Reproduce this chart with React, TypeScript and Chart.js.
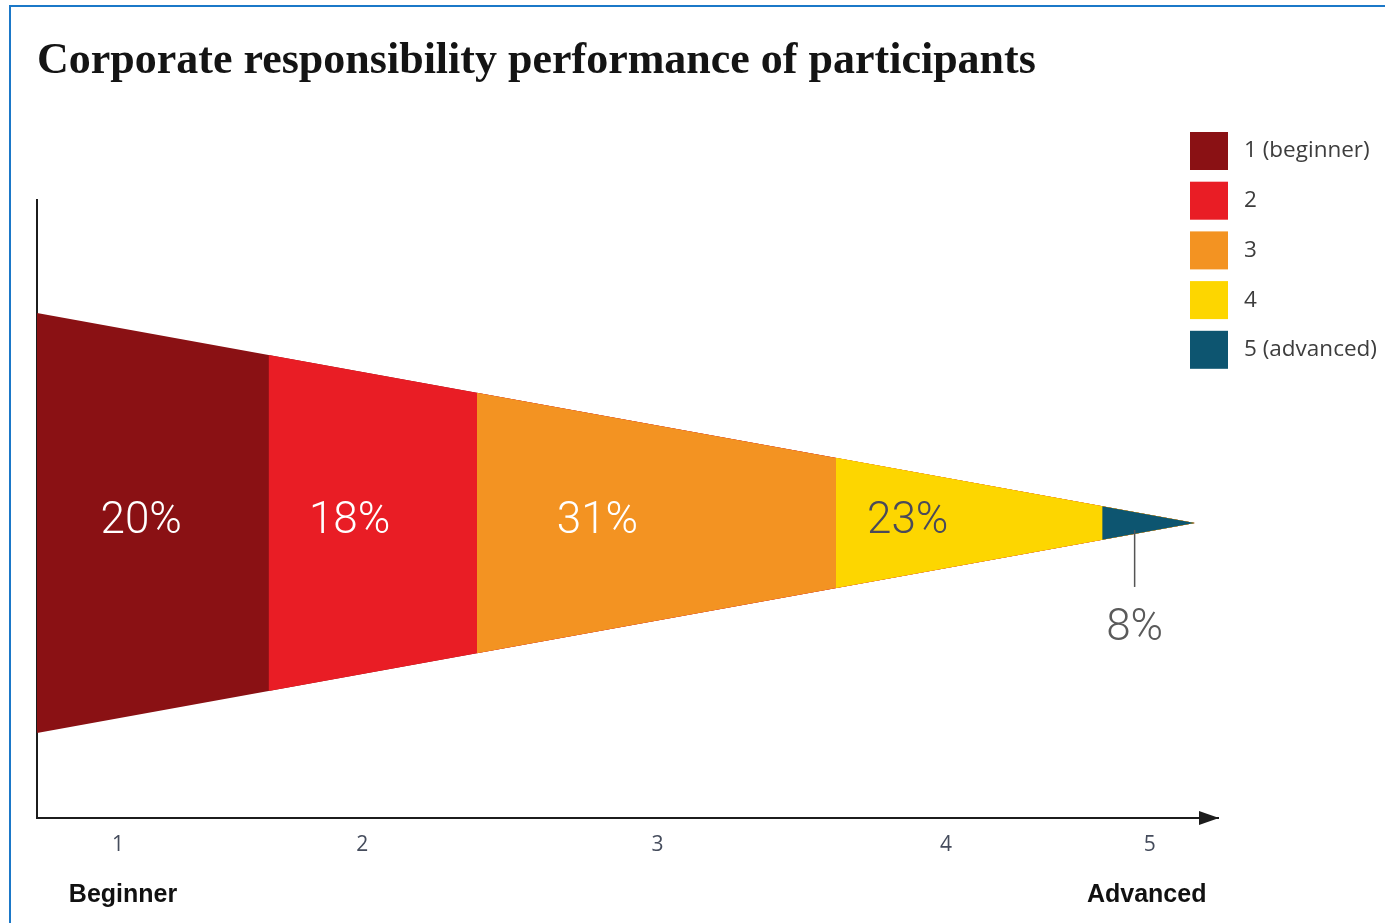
import React, { useEffect, useRef } from "react";
import { Chart, registerables } from "chart.js";

Chart.register(...registerables);

// ---- data ----
const TITLE = "Corporate responsibility performance of participants";
const levels = ["1 (beginner)", "2", "3", "4", "5 (advanced)"];
const shares = [20, 18, 31, 23, 8];
const shareLabels = ["20%", "18%", "31%", "23%", "8%"];
const labelAt = [9.0, 27.0, 48.4, 75.2, 94.8]; // x position (in % units) of each share label
const tickValues = [7.0, 28.1, 53.6, 78.5, 96.1];
const tickLabels = ["1", "2", "3", "4", "5"];
const axisEnds = ["Beginner", "Advanced"];

// ---- style ----
const colors = ["#8a1114", "#e91d25", "#f39322", "#fdd600", "#0d5570"];
const labelColors = ["#ffffff", "#ffffff", "#ffffff", "#4a4a5a", "#5a5a5a"];
const CALLOUT = 4; // index of label placed under the wedge with a leader line
const HALF_HEIGHT = 1; // wedge half-height at the start
const X_MAX = 102;
const Y_MIN = -1.405;
const Y_MAX = 1.538;

export default function App() {
  const ref = useRef<HTMLCanvasElement>(null);

  useEffect(() => {
    const canvas = ref.current;
    if (!canvas) return;

    const bounds: number[] = [0];
    shares.forEach((s) => bounds.push(bounds[bounds.length - 1] + s));
    const total = bounds[bounds.length - 1];
    const half = (x: number) => HALF_HEIGHT * (1 - x / total);

    // each band is drawn from its start to the tip; later bands sit on top
    const datasets: any[] = [];
    shares.forEach((_, i) => {
      const a = bounds[i];
      const order = shares.length - i;
      datasets.push({
        label: levels[i],
        data: [
          { x: a, y: half(a) },
          { x: total, y: half(total) },
        ],
        borderWidth: 0,
        pointRadius: 0,
        fill: false,
        order,
        borderColor: colors[i],
        backgroundColor: colors[i],
      });
      datasets.push({
        label: levels[i] + " low",
        data: [
          { x: a, y: -half(a) },
          { x: total, y: -half(total) },
        ],
        borderWidth: 0,
        pointRadius: 0,
        fill: "-1",
        order,
        borderColor: colors[i],
        backgroundColor: colors[i],
      });
    });

    const overlay = {
      id: "overlay",
      afterDraw(chart: any) {
        const { ctx, chartArea } = chart;
        const xs = chart.scales.x;
        const ys = chart.scales.y;
        ctx.save();

        // arrow head on x axis
        const ay = chartArea.bottom;
        ctx.fillStyle = "#1c1c1c";
        ctx.beginPath();
        ctx.moveTo(chartArea.right + 1, ay);
        ctx.lineTo(chartArea.right - 19, ay - 7);
        ctx.lineTo(chartArea.right - 19, ay + 7);
        ctx.closePath();
        ctx.fill();

        // share labels
        ctx.font = "300 44px Roboto";
        ctx.textAlign = "center";
        ctx.textBaseline = "alphabetic";
        const cy = ys.getPixelForValue(0);
        shareLabels.forEach((t, i) => {
          const px = xs.getPixelForValue(labelAt[i]);
          ctx.fillStyle = labelColors[i];
          if (i === CALLOUT) {
            ctx.strokeStyle = "#555555";
            ctx.lineWidth = 1.5;
            ctx.beginPath();
            ctx.moveTo(px, cy + 7);
            ctx.lineTo(px, cy + 64);
            ctx.stroke();
            ctx.fillText(t, px, cy + 117);
          } else {
            ctx.fillText(t, px, cy + 10);
          }
        });

        // axis end captions
        ctx.font = "bold 25px 'Liberation Sans'";
        ctx.fillStyle = "#111111";
        ctx.fillText(axisEnds[0], xs.getPixelForValue(tickValues[0]) + 5, 902);
        ctx.fillText(axisEnds[1], xs.getPixelForValue(tickValues[tickValues.length - 1]) - 3, 902);

        // legend
        const lx = 1190;
        const ly = 132;
        const box = 38;
        const step = 49.7;
        ctx.textAlign = "left";
        ctx.textBaseline = "middle";
        ctx.font = "22.5px 'Open Sans'";
        levels.forEach((lab, i) => {
          const top = ly + i * step;
          ctx.fillStyle = colors[i];
          ctx.fillRect(lx, top, box, box);
          ctx.fillStyle = "#3d3d3d";
          ctx.fillText(lab, 1244, top + box / 2);
        });

        ctx.restore();
      },
    };

    const chart = new Chart(canvas, {
      type: "line",
      data: { datasets },
      options: {
        animation: false,
        responsive: false,
        events: [],
        layout: { padding: { left: 37, right: 167, top: 0, bottom: 0 } },
        plugins: {
          legend: { display: false },
          tooltip: { enabled: false },
          title: {
            display: true,
            text: TITLE,
            align: "start",
            color: "#141414",
            font: { family: "'Liberation Serif'", size: 44, weight: "bold" },
            padding: { top: 35, bottom: 112.2 },
          },
        },
        scales: {
          x: {
            type: "linear",
            min: 0,
            max: X_MAX,
            grid: { display: false, drawTicks: false },
            border: { display: true, color: "#1c1c1c", width: 2 },
            afterBuildTicks: (s: any) => {
              s.ticks = tickValues.map((v) => ({ value: v }));
            },
            afterFit: (s: any) => {
              s.height = 105;
            },
            ticks: {
              autoSkip: false,
              maxRotation: 0,
              padding: 14,
              color: "#454c5c",
              font: { family: "'Open Sans'", size: 21 },
              callback: (_v: any, i: number) => tickLabels[i],
            },
          },
          y: {
            type: "linear",
            min: Y_MIN,
            max: Y_MAX,
            grid: { display: false, drawTicks: false },
            ticks: { display: false },
            border: { display: true, color: "#1c1c1c", width: 2 },
            afterFit: (s: any) => {
              s.width = 0;
            },
          },
        },
      },
      plugins: [overlay],
    } as any);

    return () => chart.destroy();
  }, []);

  return (
    <>
      <div
        style={{
          position: "fixed",
          left: 9,
          top: 5,
          right: 0,
          bottom: 0,
          borderTop: "2px solid #1b78c8",
          borderLeft: "2px solid #1b78c8",
          background: "#ffffff",
        }}
      />
      <canvas
        ref={ref}
        width={1385}
        height={923}
        style={{ position: "fixed", left: 0, top: 0, width: 1385, height: 923, display: "block" }}
      />
    </>
  );
}
